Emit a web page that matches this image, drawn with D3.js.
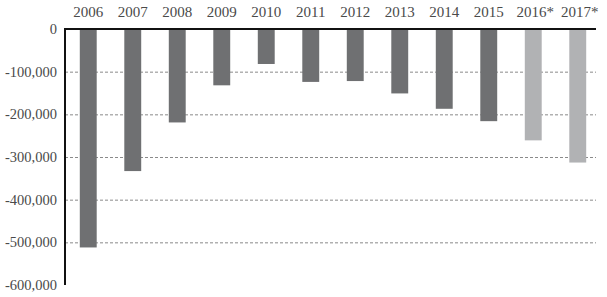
<!DOCTYPE html>
<html>
<head>
<meta charset="utf-8">
<script src="https://cdn.jsdelivr.net/npm/d3@7"></script>
<style>
  body { margin: 0; background: #fff; }
  text { font-family: "Liberation Serif", serif; }
</style>
</head>
<body>
<div id="chart"></div>
<script>
// years and values
const years = ["2006", "2007", "2008", "2009", "2010", "2011", "2012", "2013", "2014", "2015", "2016*", "2017*"]
const values = [-512000, -333000, -219000, -132000, -82000, -124000, -122000, -151000, -187000, -216000, -261000, -313000]
const estimated = [false, false, false, false, false, false, false, false, false, false, true, true]
const yTicks = [0, -100000, -200000, -300000, -400000, -500000, -600000]

let width = 607, height = 297
let svg = d3.select("#chart").append("svg")
    .attr("width", width)
    .attr("height", height)

let x = d3.scaleBand()
    .domain(years)
    .range([66, 600])
    .paddingInner(0.62)
    .paddingOuter(0.31)

let y = d3.scaleLinear()
    .domain([-600000, 0])
    .range([285, 29])

const fmt = d3.format(",")

// dashed grid lines
svg.selectAll(".grid")
    .data(yTicks.filter(d => d !== 0 && d !== -600000))
    .enter().append("line")
    .attr("x1", 65)
    .attr("x2", 596)
    .attr("y1", d => y(d) + 0.5)
    .attr("y2", d => y(d) + 0.5)
    .attr("stroke", "#8a8a8a")
    .attr("stroke-width", 1)
    .attr("stroke-dasharray", "3,2")

// bars
svg.selectAll(".bar")
    .data(values)
    .enter().append("rect")
    .attr("x", (d, i) => x(years[i]))
    .attr("width", x.bandwidth())
    .attr("y", y(0))
    .attr("height", d => y(d) - y(0))
    .attr("fill", (d, i) => estimated[i] ? "#b1b2b4" : "#6f7072")

// zero line and vertical axis
svg.append("line")
    .attr("x1", 64).attr("x2", 596)
    .attr("y1", y(0)).attr("y2", y(0))
    .attr("stroke", "#111").attr("stroke-width", 2)
svg.append("line")
    .attr("x1", 65).attr("x2", 65)
    .attr("y1", y(0)).attr("y2", y(-600000))
    .attr("stroke", "#111").attr("stroke-width", 2)

// y tick labels
svg.selectAll(".ylab")
    .data(yTicks)
    .enter().append("text")
    .attr("x", 57)
    .attr("y", d => y(d))
    .attr("dy", "0.35em")
    .attr("text-anchor", "end")
    .attr("font-size", 14.5)
    .attr("fill", "#4a4a4a")
    .text(d => fmt(d).replace("−", "-"))

// year labels on top
svg.selectAll(".xlab")
    .data(years)
    .enter().append("text")
    .attr("x", d => x(d) + x.bandwidth() / 2 + (d.endsWith("*") ? 2 : 0))
    .attr("y", 17)
    .attr("text-anchor", "middle")
    .attr("font-size", 15)
    .attr("fill", "#4a4a4a")
    .text(d => d)
</script>
</body>
</html>
